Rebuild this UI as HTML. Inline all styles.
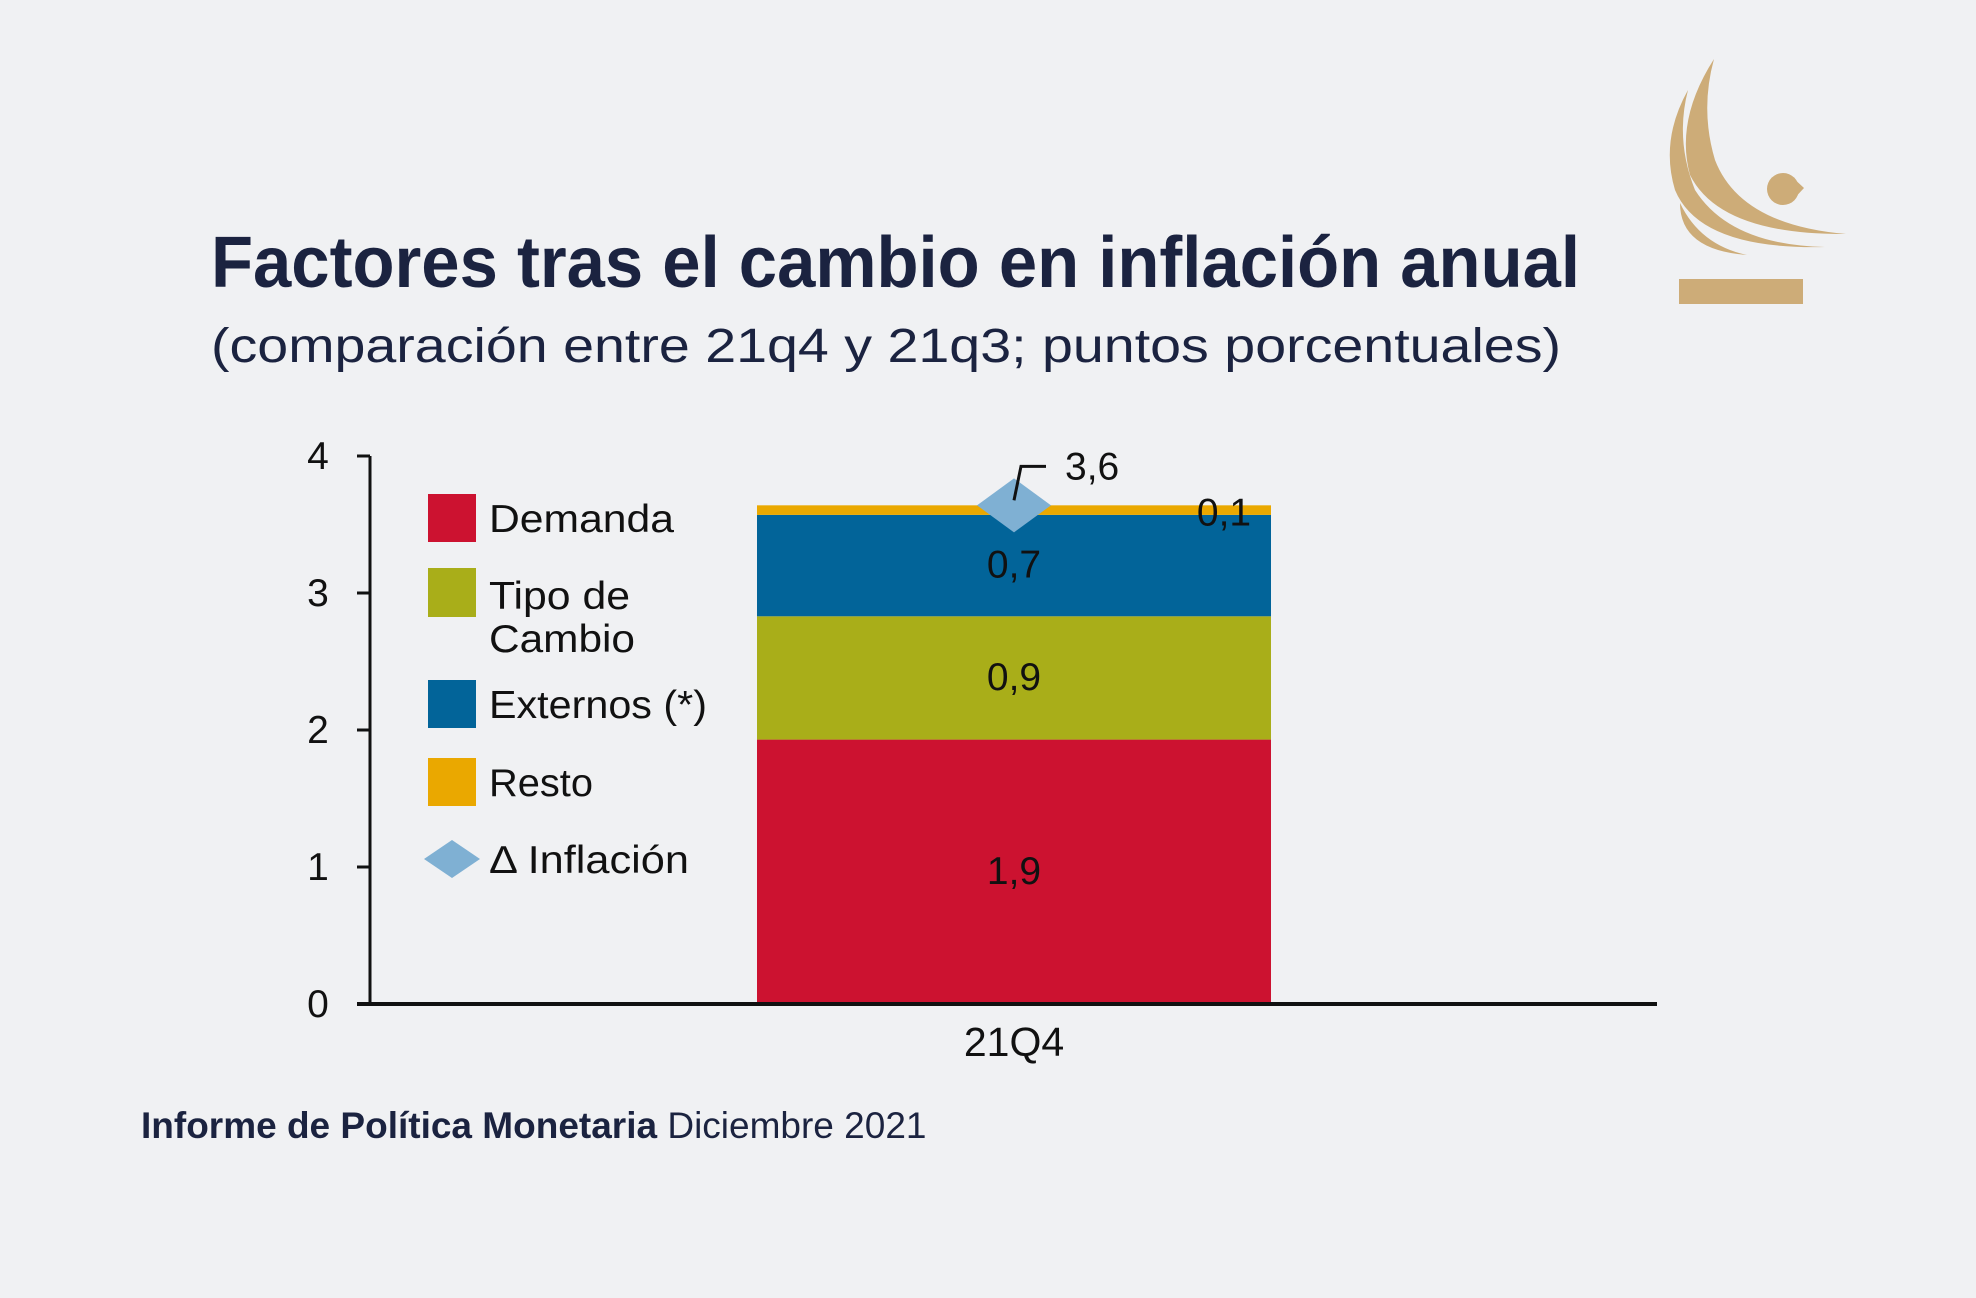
<!DOCTYPE html>
<html><head><meta charset="utf-8">
<style>
html,body{margin:0;padding:0;background:#f0f1f3;}
svg{display:block;font-family:"Liberation Sans",sans-serif;}
</style></head>
<body>
<svg id="chart" width="1976" height="1298" viewBox="0 0 1976 1298" xmlns="http://www.w3.org/2000/svg">
<rect width="1976" height="1298" fill="#f0f1f3"/>
<g fill="#cdac78">
  <path d="M1714,59 Q1675,120 1690,175 Q1720,235 1846,234 Q1740,225 1715,160 Q1700,110 1714,59 Z"/>
  <path d="M1688,90 Q1660,140 1675,190 Q1700,250 1825,247 Q1730,245 1695,190 Q1675,140 1688,90 Z"/>
  <path d="M1680,203 Q1680,250 1747,255 Q1700,245 1680,203 Z"/>
  <circle cx="1783" cy="189" r="16"/>
  <path d="M1790,175 L1804,188 L1790,203 Z"/>
  <rect x="1679" y="279" width="124" height="25"/>
</g>
<text x="211" y="287" font-size="72" font-weight="bold" fill="#1b2340" textLength="1369" lengthAdjust="spacingAndGlyphs">Factores tras el cambio en inflación anual</text>
<text x="211" y="362" font-size="48" fill="#1b2340" textLength="1350" lengthAdjust="spacingAndGlyphs">(comparación entre 21q4 y 21q3; puntos porcentuales)</text>
<g id="plot"></g>
<g font-size="39" fill="#111">
  <g><rect x="428" y="494" width="48" height="48" fill="#cc1230"/><text x="489" y="532" textLength="185" lengthAdjust="spacingAndGlyphs">Demanda</text></g>
  <g><rect x="428" y="568" width="48" height="49" fill="#a9ae19"/><text x="489" y="609" textLength="141" lengthAdjust="spacingAndGlyphs">Tipo de</text><text x="489" y="652" textLength="146" lengthAdjust="spacingAndGlyphs">Cambio</text></g>
  <g><rect x="428" y="680" width="48" height="48" fill="#026499"/><text x="489" y="718" textLength="218" lengthAdjust="spacingAndGlyphs">Externos (*)</text></g>
  <g><rect x="428" y="758" width="48" height="48" fill="#eaa800"/><text x="489" y="796" textLength="104" lengthAdjust="spacingAndGlyphs">Resto</text></g>
  <g><path d="M452,840 L480,859 L452,878 L424,859 Z" fill="#7fb0d3"/><text x="489" y="873" textLength="200" lengthAdjust="spacingAndGlyphs">Δ Inflación</text></g>
</g>
<text x="141" y="1138" font-size="37" fill="#1b2340"><tspan font-weight="bold">Informe de Política Monetaria</tspan> Diciembre 2021</text>
<script>
const categories = ["21Q4"];
const seriesNames = ["Demanda","Tipo de Cambio","Externos (*)","Resto"];
const demanda = [1.93];
const tipoCambio = [0.90];
const externos = [0.74];
const resto = [0.07];
const inflacion = [3.64];
const segLabels = ["1,9","0,9","0,7","0,1"];
const inflLabels = ["3,6"];
const yTicks = [0,1,2,3,4];

const NS="http://www.w3.org/2000/svg";
const plot=document.getElementById('plot');
const X0=370, X1=1657, Y0=1004, YTOP=456;
function y(v){return Y0-(v/4)*(Y0-YTOP);}
const catCenter=1014, barW=514;
function xc(i){return catCenter+i*600;}
function mk(tag,attrs){const e=document.createElementNS(NS,tag);for(const k in attrs)e.setAttribute(k,attrs[k]);plot.appendChild(e);return e;}

const colors=["#cc1230","#a9ae19","#026499","#eaa800"];
const series=[demanda,tipoCambio,externos,resto];
categories.forEach((c,i)=>{
  let base=0;
  series.forEach((s,k)=>{
    const r=mk('rect',{x:xc(i)-barW/2,y:y(base+s[i]),width:barW,height:y(base)-y(base+s[i]),fill:colors[k]});
    
    
    const mid=base+s[i]/2;
    let lx=xc(i), ly=y(mid)+12;
    if(k===3){lx=xc(i)+210; ly=y(base+s[i])+20;}
    const t=mk('text',{x:lx,y:ly,'font-size':39,fill:'#111','text-anchor':'middle'});
    t.textContent=segLabels[k];
    
    
    base+=s[i];
  });
  const cy=y(inflacion[i]);
  const d=mk('path',{d:`M${xc(i)},${cy-27} L${xc(i)+37},${cy} L${xc(i)},${cy+27} L${xc(i)-37},${cy} Z`,fill:'#7fb0d3'});
  
  
  const l=mk('path',{d:`M${xc(i)},${cy-5} L${xc(i)+7},${cy-39} L${xc(i)+32},${cy-39}`,stroke:'#111','stroke-width':3,fill:'none'});
  
  
  const lt=mk('text',{x:xc(i)+51,y:cy-26,'font-size':39,fill:'#111'});
  lt.textContent=inflLabels[i];
  
  
  const ct=mk('text',{x:xc(i),y:1056,'font-size':41,fill:'#111','text-anchor':'middle'});
  ct.textContent=c;
  
  
});
const ya=mk('line',{x1:X0,y1:YTOP,x2:X0,y2:Y0+2,stroke:'#111','stroke-width':3});


const xa=mk('line',{x1:X0-13,y1:Y0,x2:X1,y2:Y0,stroke:'#111','stroke-width':4});


yTicks.forEach(v=>{
  const tk=mk('line',{x1:X0-13,y1:y(v),x2:X0,y2:y(v),stroke:'#111','stroke-width':3});
  
  
  const tl=mk('text',{x:318,y:y(v)+13,'font-size':39,fill:'#111','text-anchor':'middle'});
  tl.textContent=String(v);
  
  
});
</script>
</svg>
</body></html>
